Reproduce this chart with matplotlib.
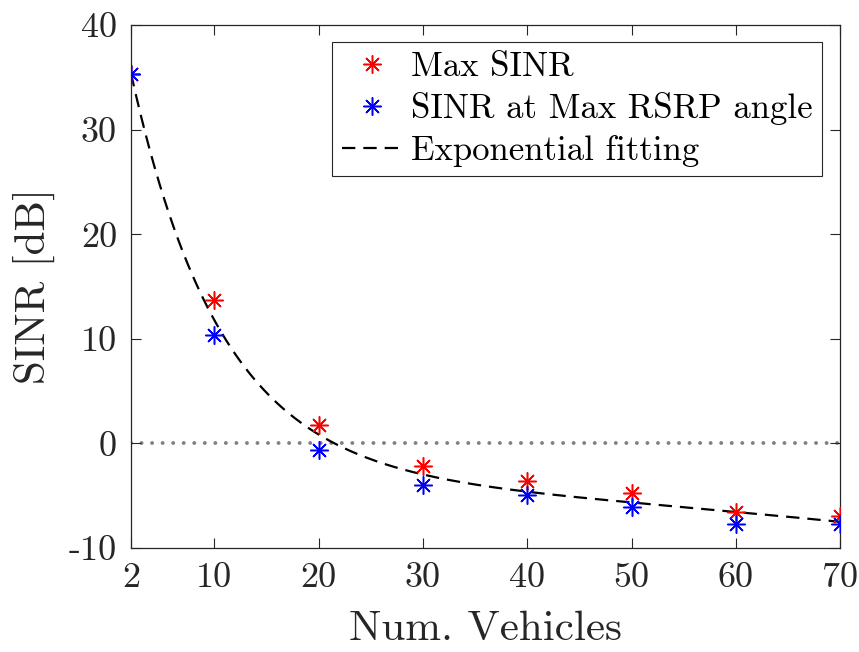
import numpy as np
import matplotlib.pyplot as plt

plt.rcParams['font.family'] = 'cmr10'
plt.rcParams['axes.formatter.use_mathtext'] = True

# data
vehicles = np.array([2, 10, 20, 30, 40, 50, 60, 70])
sinr_max = np.array([35.3, 13.7, 1.8, -2.2, -3.6, -4.7, -6.6, -6.9])
sinr_rsrp = np.array([35.3, 10.4, -0.6, -4.0, -4.9, -6.1, -7.7, -7.7])

xticks = [2, 10, 20, 30, 40, 50, 60, 70]
yticks = [-10, 0, 10, 20, 30, 40]


# two-term exponential fit (a*exp(b*x) + c*exp(d*x)) to both series
def exp2_fit(x, y):
    best = None
    for b in np.linspace(-0.6, 0, 301):
        for d in np.linspace(-0.1, 0.05, 151):
            A = np.c_[np.exp(b * x), np.exp(d * x)]
            coef = np.linalg.lstsq(A, y, rcond=None)[0]
            r = np.sum((A @ coef - y) ** 2)
            if best is None or r < best[0]:
                best = (r, coef[0], b, coef[1], d)
    return best[1:]


a, b, c, d = exp2_fit(np.r_[vehicles, vehicles], np.r_[sinr_max, sinr_rsrp])
xfit = np.linspace(2, 70, 300)
yfit = a * np.exp(b * xfit) + c * np.exp(d * xfit)

fig = plt.figure(figsize=(8.59, 6.52), dpi=100)
ax = fig.add_axes([0.1525, 0.1595, 0.8255, 0.8022])

ax.axhline(0, color='0.5', lw=2.8, linestyle=(0, (0.01, 2.7)),
           dash_capstyle='round', zorder=1)
star = (8, 2, 0)
ax.plot(vehicles, sinr_max, ls='none', marker=star, ms=13, mew=1.1,
        color='red', label='Max SINR', zorder=3)
ax.plot(vehicles, sinr_rsrp, ls='none', marker=star, ms=13, mew=1.1,
        color='blue', label='SINR at Max RSRP angle', zorder=3)
ax.plot(xfit, yfit, color='black', lw=1.6, dashes=(6, 3.6),
        label='Exponential fitting', zorder=2)

ax.set_xlim(2, 70)
ax.set_ylim(-10, 40)
ax.set_xticks(xticks)
ax.set_xticklabels([str(t) for t in xticks])
ax.set_yticks(yticks)
ax.set_yticklabels([str(t) for t in yticks])
ax.tick_params(direction='in', top=True, right=True, length=7, width=0.8,
               labelsize=26, colors='0.15', pad=10)
for s in ax.spines.values():
    s.set_color('0.15')
    s.set_linewidth(0.9)

ax.set_xlabel('Num. Vehicles', fontsize=31, color='0.15', labelpad=12)
ax.set_ylabel('SINR [dB]', fontsize=31, color='0.15', labelpad=10)

leg = ax.legend(loc='upper right', bbox_to_anchor=(0.9746, 0.9675),
                borderaxespad=0, fontsize=25, handlelength=1.75,
                handletextpad=0.25, labelspacing=0.27, borderpad=0.27,
                fancybox=False, framealpha=1)
leg.get_frame().set_edgecolor('0.15')
leg.get_frame().set_linewidth(0.8)

fig.savefig('out.png')
